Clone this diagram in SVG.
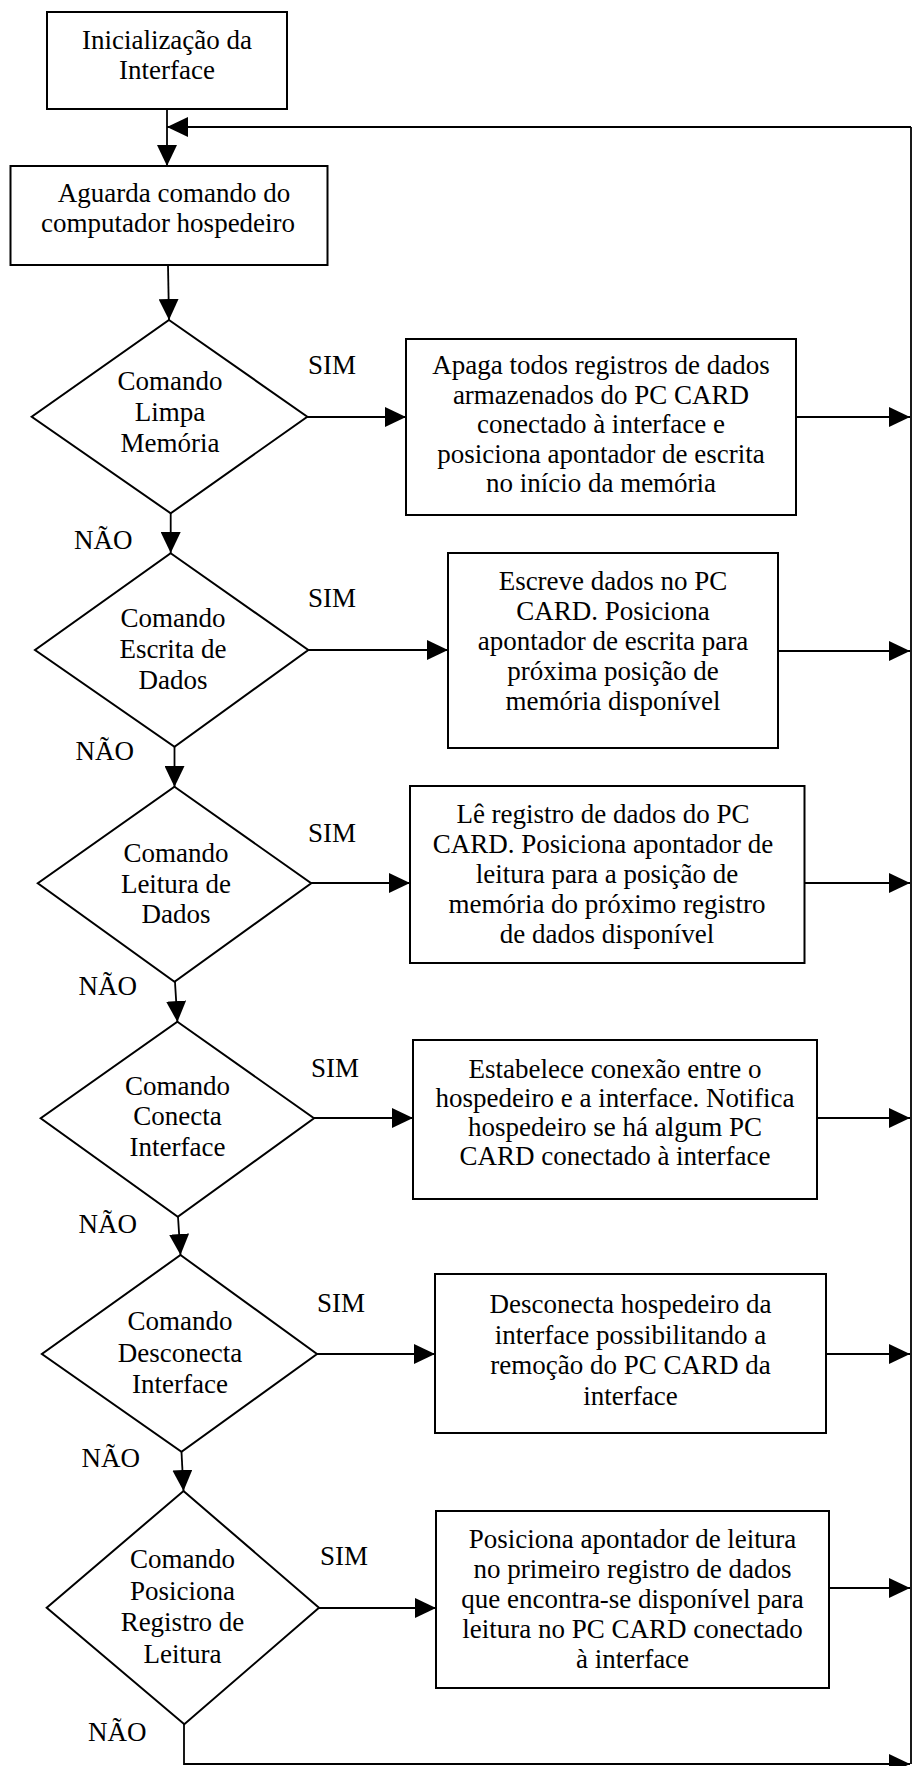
<svg xmlns="http://www.w3.org/2000/svg" width="912" height="1766" viewBox="0 0 912 1766">
  <style>
    .bg { fill: #ffffff; }
    .box { fill: #ffffff; stroke: #000000; stroke-width: 2; }
    .dec { fill: #ffffff; stroke: #000000; stroke-width: 2; stroke-linejoin: miter; }
    .t { font-family: "Liberation Serif", "Times New Roman", serif; font-size: 27px; fill: #000000; text-anchor: middle; }
    .lbl { font-family: "Liberation Serif", "Times New Roman", serif; font-size: 27px; fill: #000000; text-anchor: start; }
    .line { fill: none; stroke: #000000; stroke-width: 1.8; }
    .arrow { fill: none; stroke: #000000; stroke-width: 1.8; marker-end: url(#head); }
  </style>
  <defs>
    <marker id="head" markerUnits="userSpaceOnUse" markerWidth="21" markerHeight="20" refX="21" refY="10" orient="auto">
      <path d="M0,0 L21,10 L0,20 Z" fill="#000000"/>
    </marker>
  </defs>

  <rect class="bg" x="0" y="0" width="912" height="1766"/>

  <!-- connectors -->
  <g id="connectors">
    <path class="arrow" d="M167,109 L167,166"/>
    <path class="line" d="M911,1764 L911,127"/>
    <path class="arrow" d="M911,127 L167,127"/>
    <path class="arrow" d="M168,265 L169,320"/>

    <path class="arrow" d="M307,417 L406,417"/>
    <path class="arrow" d="M796,417 L910,417"/>
    <path class="arrow" d="M170.7,513 L170.7,553"/>

    <path class="arrow" d="M308,650 L448,650"/>
    <path class="arrow" d="M778,651 L910,651"/>
    <path class="arrow" d="M174.5,747 L174.5,787"/>

    <path class="arrow" d="M311,883 L410,883"/>
    <path class="arrow" d="M804.5,883 L910,883"/>
    <path class="arrow" d="M175,982 L177.4,1022"/>

    <path class="arrow" d="M314,1118 L413,1118"/>
    <path class="arrow" d="M817,1118 L910,1118"/>
    <path class="arrow" d="M178,1217 L180.5,1255"/>

    <path class="arrow" d="M317,1354 L435,1354"/>
    <path class="arrow" d="M826,1354 L910,1354"/>
    <path class="arrow" d="M181.5,1452 L183.5,1491"/>

    <path class="arrow" d="M319,1608 L436,1608"/>
    <path class="arrow" d="M829,1588 L910,1588"/>
    <path class="arrow" d="M184,1724 L184,1764 L910,1764"/>
  </g>

  <!-- start -->
  <g id="inicio">
    <rect class="box" x="47" y="12" width="240" height="97"/>
    <text class="t" x="167" y="49">Inicialização da</text>
    <text class="t" x="167" y="79">Interface</text>
  </g>

  <g id="aguarda">
    <rect class="box" x="10.5" y="166" width="317" height="99"/>
    <text class="t" x="174" y="202">Aguarda comando do</text>
    <text class="t" x="168" y="232">computador hospedeiro</text>
  </g>

  <!-- decision 1 -->
  <g id="limpa">
    <polygon class="dec" points="169,320 307.3,416.7 170.7,513.3 31.7,416.7"/>
    <text class="t" x="170" y="390">Comando</text>
    <text class="t" x="170" y="421">Limpa</text>
    <text class="t" x="170" y="452">Memória</text>
  </g>
  <g id="apaga">
    <rect class="box" x="406" y="339" width="390" height="176"/>
    <text class="t" x="601" y="374">Apaga todos registros de dados</text>
    <text class="t" x="601" y="403.6">armazenados do PC CARD</text>
    <text class="t" x="601" y="433.2">conectado à interface e</text>
    <text class="t" x="601" y="462.8">posiciona apontador de escrita</text>
    <text class="t" x="601" y="492.4">no início da memória</text>
  </g>
  <text class="lbl" x="308" y="374">SIM</text>
  <text class="lbl" x="74" y="549">NÃO</text>

  <!-- decision 2 -->
  <g id="escrita">
    <polygon class="dec" points="170.7,553.3 308.3,650 174.5,746.7 35,650"/>
    <text class="t" x="173" y="627">Comando</text>
    <text class="t" x="173" y="658">Escrita de</text>
    <text class="t" x="173" y="689">Dados</text>
  </g>
  <g id="escreve">
    <rect class="box" x="448" y="553" width="330" height="195"/>
    <text class="t" x="613" y="590">Escreve dados no PC</text>
    <text class="t" x="613" y="620">CARD. Posiciona</text>
    <text class="t" x="613" y="650">apontador de escrita para</text>
    <text class="t" x="613" y="680">próxima posição de</text>
    <text class="t" x="613" y="710">memória disponível</text>
  </g>
  <text class="lbl" x="308" y="607">SIM</text>
  <text class="lbl" x="75.5" y="760">NÃO</text>

  <!-- decision 3 -->
  <g id="leitura">
    <polygon class="dec" points="174.5,786.7 311.2,883.3 174.5,981.7 37.8,883.3"/>
    <text class="t" x="176" y="862">Comando</text>
    <text class="t" x="176" y="893">Leitura de</text>
    <text class="t" x="176" y="923">Dados</text>
  </g>
  <g id="le">
    <rect class="box" x="410" y="786" width="394.5" height="177"/>
    <text class="t" x="603" y="823">Lê registro de dados do PC</text>
    <text class="t" x="603" y="853">CARD. Posiciona apontador de</text>
    <text class="t" x="607" y="883">leitura para a posição de</text>
    <text class="t" x="607" y="913">memória do próximo registro</text>
    <text class="t" x="607" y="943">de dados disponível</text>
  </g>
  <text class="lbl" x="308" y="842">SIM</text>
  <text class="lbl" x="78.5" y="995">NÃO</text>

  <!-- decision 4 -->
  <g id="conecta">
    <polygon class="dec" points="177.4,1021.7 314,1118.3 177.8,1216.7 40.7,1118.3"/>
    <text class="t" x="177.5" y="1095">Comando</text>
    <text class="t" x="177.5" y="1125">Conecta</text>
    <text class="t" x="177.5" y="1156">Interface</text>
  </g>
  <g id="estabelece">
    <rect class="box" x="413" y="1040" width="404" height="159"/>
    <text class="t" x="615" y="1078">Estabelece conexão entre o</text>
    <text class="t" x="615" y="1107">hospedeiro e a interface. Notifica</text>
    <text class="t" x="615" y="1136">hospedeiro se há algum PC</text>
    <text class="t" x="615" y="1165">CARD conectado à interface</text>
  </g>
  <text class="lbl" x="311" y="1077">SIM</text>
  <text class="lbl" x="78.5" y="1233">NÃO</text>

  <!-- decision 5 -->
  <g id="desconecta">
    <polygon class="dec" points="180.5,1255 317,1354 181.5,1451.7 41.9,1354"/>
    <text class="t" x="180" y="1330">Comando</text>
    <text class="t" x="180" y="1362">Desconecta</text>
    <text class="t" x="180" y="1393">Interface</text>
  </g>
  <g id="desconecta-acao">
    <rect class="box" x="435" y="1274" width="391" height="159"/>
    <text class="t" x="630.5" y="1313">Desconecta hospedeiro da</text>
    <text class="t" x="630.5" y="1343.5">interface possibilitando a</text>
    <text class="t" x="630.5" y="1374">remoção do PC CARD da</text>
    <text class="t" x="630.5" y="1404.5">interface</text>
  </g>
  <text class="lbl" x="317" y="1312">SIM</text>
  <text class="lbl" x="81.5" y="1467">NÃO</text>

  <!-- decision 6 -->
  <g id="posiciona">
    <polygon class="dec" points="183.5,1491 319,1607.7 184.3,1724.3 46.7,1607.7"/>
    <text class="t" x="182.5" y="1568">Comando</text>
    <text class="t" x="182.5" y="1599.5">Posiciona</text>
    <text class="t" x="182.5" y="1631">Registro de</text>
    <text class="t" x="182.5" y="1662.5">Leitura</text>
  </g>
  <g id="posiciona-acao">
    <rect class="box" x="436" y="1511" width="393" height="177"/>
    <text class="t" x="632.5" y="1548">Posiciona apontador de leitura</text>
    <text class="t" x="632.5" y="1578">no primeiro registro de dados</text>
    <text class="t" x="632.5" y="1608">que encontra-se disponível para</text>
    <text class="t" x="632.5" y="1638">leitura no PC CARD conectado</text>
    <text class="t" x="632.5" y="1668">à interface</text>
  </g>
  <text class="lbl" x="320" y="1565">SIM</text>
  <text class="lbl" x="88" y="1741">NÃO</text>
</svg>
